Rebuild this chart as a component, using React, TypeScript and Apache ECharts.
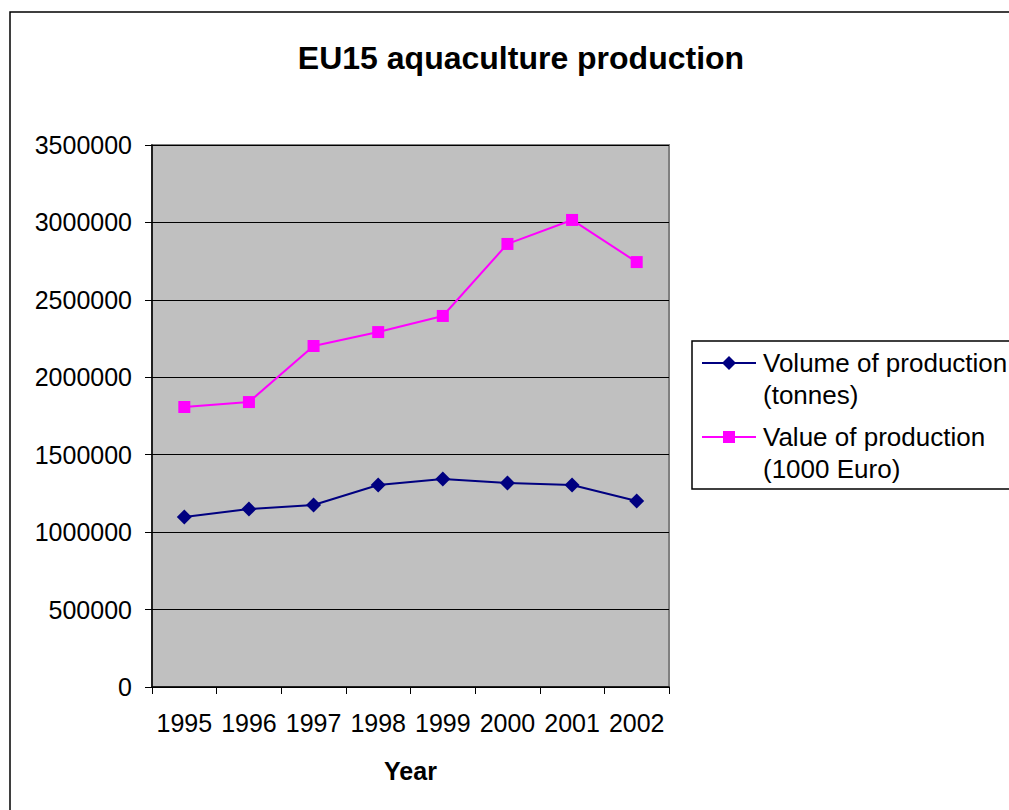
import React, { useEffect, useRef } from "react";
import * as echarts from "echarts";

const years = ["1995", "1996", "1997", "1998", "1999", "2000", "2001", "2002"];
const volumeTonnes = [1098000, 1149000, 1175000, 1304000, 1343000, 1317000, 1304000, 1201000];
const value1000Euro = [1808000, 1840000, 2202000, 2292000, 2396000, 2861000, 3016000, 2744000];
const seriesNames = ["Volume of production\n(tonnes)", "Value of production\n(1000 Euro)"];

const FONT = "'Liberation Sans', Arial, sans-serif";

export default function App() {
  const ref = useRef<HTMLDivElement>(null);
  useEffect(() => {
    if (!ref.current) return;
    const chart = echarts.init(ref.current, undefined, { renderer: "svg" });
    const legendText = (x: number, y: number, t: string) => ({
      type: "text",
      x,
      y,
      style: { text: t, fill: "#000", font: `26px ${FONT}`, textVerticalAlign: "middle" },
    });
    chart.setOption({
      animation: false,
      backgroundColor: "#fff",
      title: {
        text: "EU15 aquaculture production",
        left: 516,
        textAlign: "center",
        top: 37,
        textStyle: { fontFamily: FONT, fontSize: 32, fontWeight: "bold", color: "#000" },
      },
      grid: {
        left: 152,
        top: 145,
        right: 340,
        bottom: 123,
        show: true,
        backgroundColor: "#C0C0C0",
        borderColor: "#808080",
        borderWidth: 2,
      },
      xAxis: {
        type: "category",
        data: years,
        boundaryGap: true,
        name: "Year",
        nameLocation: "middle",
        nameGap: 71,
        nameTextStyle: { fontFamily: FONT, fontSize: 25, fontWeight: "bold", color: "#000" },
        axisLine: { lineStyle: { color: "#000", width: 1.5 } },
        axisTick: { show: true, interval: 0, length: 7, lineStyle: { color: "#000" } },
        axisLabel: { interval: 0, fontFamily: FONT, fontSize: 25, color: "#000", margin: 23 },
        splitLine: { show: false },
      },
      yAxis: {
        type: "value",
        min: 0,
        max: 3500000,
        interval: 500000,
        axisLine: { show: true, lineStyle: { color: "#000", width: 1.5 } },
        axisTick: { show: true, length: 7, lineStyle: { color: "#000" } },
        axisLabel: {
          fontFamily: FONT,
          fontSize: 25,
          color: "#000",
          margin: 20,
          formatter: (v: number) => String(v),
        },
        splitLine: { show: true, lineStyle: { color: "#000", width: 1 } },
      },
      series: [
        {
          name: seriesNames[0],
          type: "line",
          data: volumeTonnes,
          symbol: "diamond",
          symbolSize: 15,
          lineStyle: { color: "#000080", width: 2 },
          itemStyle: { color: "#000080" },
        },
        {
          name: seriesNames[1],
          type: "line",
          data: value1000Euro,
          symbol: "rect",
          symbolSize: 12,
          lineStyle: { color: "#FF00FF", width: 2 },
          itemStyle: { color: "#FF00FF" },
        },
      ],
      graphic: [
        {
          type: "rect",
          shape: { x: 10, y: 12, width: 1200, height: 1000 },
          style: { fill: "none", stroke: "#000", lineWidth: 1.5 },
          silent: true,
        },
        {
          type: "rect",
          shape: { x: 692, y: 341, width: 400, height: 148 },
          style: { fill: "#fff", stroke: "#000", lineWidth: 1.5 },
          silent: true,
        },
        {
          type: "line",
          shape: { x1: 702, y1: 363, x2: 756, y2: 363 },
          style: { stroke: "#000080", lineWidth: 2 },
        },
        {
          type: "polygon",
          shape: { points: [[729, 356], [736, 363], [729, 370], [722, 363]] },
          style: { fill: "#000080" },
        },
        {
          type: "line",
          shape: { x1: 702, y1: 437, x2: 756, y2: 437 },
          style: { stroke: "#FF00FF", lineWidth: 2 },
        },
        {
          type: "rect",
          shape: { x: 723, y: 431, width: 12, height: 12 },
          style: { fill: "#FF00FF" },
        },
        legendText(763, 363, "Volume of production"),
        legendText(763, 395, "(tonnes)"),
        legendText(763, 437, "Value of production"),
        legendText(763, 469, "(1000 Euro)"),
      ],
    });
    return () => chart.dispose();
  }, []);
  return (
    <div
      ref={ref}
      style={{ position: "absolute", left: 0, top: 0, width: 1009, height: 810 }}
    />
  );
}
